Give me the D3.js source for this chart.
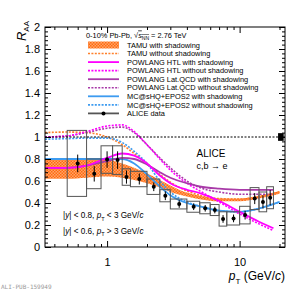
<!DOCTYPE html>
<html>
<head>
<meta charset="utf-8">
<script src="https://d3js.org/d3.v7.min.js"></script>
<style>
body { margin: 0; background: #fff; }
svg { display: block; font-family: 'Liberation Sans', Arial, Helvetica, sans-serif; }
</style>
</head>
<body>
<script>
// model curves at these pT nodes (GeV/c)
var ptModel   = [0.34, 0.5, 0.7, 1.0, 1.3, 1.6, 2.0, 2.5, 3.0, 4.0, 5.0, 7.0, 10, 14, 20];
var ptPowlang = [0.34, 0.5, 0.7, 1.0, 1.3, 1.6, 2.0, 2.5, 3.0, 4.0, 5.0, 7.0, 10, 14, 18];

var tamuShLo   = [0.62, 0.62, 0.63, 0.64, 0.63, 0.61, 0.58, 0.54, 0.50, 0.46, 0.435, 0.415, 0.415, 0.44, 0.485];
var tamuShHi   = [0.79, 0.79, 0.79, 0.79, 0.76, 0.72, 0.67, 0.61, 0.56, 0.495, 0.465, 0.44, 0.44, 0.465, 0.51];
var tamuNoSh   = [1.04, 1.045, 1.04, 1.0, 0.93, 0.85, 0.76, 0.66, 0.59, 0.51, 0.47, 0.44, 0.435, 0.46, 0.50];
var htlSh      = [0.72, 0.72, 0.74, 0.81, 0.85, 0.83, 0.76, 0.65, 0.58, 0.52, 0.49, 0.42, 0.32, 0.23, 0.17];
var htlNoSh    = [1.00, 1.01, 1.05, 1.10, 1.11, 1.05, 0.93, 0.80, 0.70, 0.58, 0.51, 0.41, 0.30, 0.21, 0.15];
var lqcdSh     = [0.72, 0.72, 0.74, 0.78, 0.81, 0.80, 0.75, 0.68, 0.63, 0.58, 0.55, 0.53, 0.52, 0.52, 0.52];
var lqcdNoSh   = [1.00, 1.01, 1.04, 1.08, 1.09, 1.04, 0.93, 0.81, 0.72, 0.60, 0.54, 0.50, 0.48, 0.48, 0.48];
var shqSh      = [0.80, 0.80, 0.80, 0.80, 0.80, 0.76, 0.66, 0.55, 0.47, 0.40, 0.37, 0.33, 0.32, 0.35, 0.41];
var shqNoSh    = [0.98, 0.985, 0.99, 0.99, 0.95, 0.87, 0.76, 0.60, 0.50, 0.41, 0.37, 0.33, 0.32, 0.35, 0.41];

// ALICE heavy-flavour decay electrons
var alicePt    = [0.6, 0.8, 1.0, 1.2, 1.4, 1.75, 2.25, 2.75, 3.5, 4.5, 5.5, 6.5, 7.5, 9, 11, 13, 15, 17];
var aliceBinLo = [0.5, 0.7, 0.9, 1.1, 1.3, 1.5, 2.0, 2.5, 3.0, 4.0, 5.0, 6.0, 7.0, 8.0, 10, 12, 14, 16];
var aliceBinHi = [0.7, 0.9, 1.1, 1.3, 1.5, 2.0, 2.5, 3.0, 4.0, 5.0, 6.0, 7.0, 8.0, 10, 12, 14, 16, 18];
var aliceRaa   = [0.76, 0.665, 0.795, 0.79, 0.636, 0.618, 0.548, 0.466, 0.391, 0.366, 0.352, 0.336, 0.255, 0.26, 0.29, 0.44, 0.41, 0.448];
var aliceStat  = [0.08, 0.07, 0.075, 0.08, 0.06, 0.05, 0.04, 0.04, 0.035, 0.03, 0.03, 0.03, 0.035, 0.035, 0.04, 0.05, 0.06, 0.07];
var aliceSys   = [0.30, 0.135, 0.125, 0.13, 0.075, 0.07, 0.07, 0.055, 0.045, 0.05, 0.05, 0.05, 0.065, 0.06, 0.08, 0.10, 0.09, 0.10];
var normUnc    = 0.035;

// ticks
var yMajor = [0, 0.2, 0.4, 0.6, 0.8, 1, 1.2, 1.4, 1.6, 1.8, 2];
var xMajor = [1, 10];
var xMinor = [0.4, 0.5, 0.6, 0.7, 0.8, 0.9, 2, 3, 4, 5, 6, 7, 8, 9, 20];

var legendLabels = ['TAMU with shadowing', 'TAMU without shadowing', 'POWLANG HTL with shadowing',
    'POWLANG HTL without shadowing', 'POWLANG Lat.QCD with shadowing', 'POWLANG Lat.QCD without shadowing',
    'MC@sHQ+EPOS2 with shadowing', 'MC@sHQ+EPOS2 without shadowing', 'ALICE data'];

var orange = '#ff7f2a', magenta = '#ff00ff', purple = '#a83aa8', blue = '#3d9bf0';
var dotted = '2,1.4';

var x0 = 45, x1 = 285, y0 = 27, y1 = 247;

var xscale = d3.scaleLog().domain([0.34, 22]).range([x0, x1]);
var yscale = d3.scaleLinear().domain([0, 2]).range([y1, y0]);

var svg = d3.select('body').append('svg')
    .attr('width', 300)
    .attr('height', 291);

//pattern for the TAMU band
var defs = svg.append('defs');
var pat = defs.append('pattern')
    .attr('id', 'tamuFill')
    .attr('patternUnits', 'userSpaceOnUse')
    .attr('width', 3).attr('height', 3);
pat.append('rect').attr('width', 3).attr('height', 3).attr('fill', '#ffa468');
pat.append('rect').attr('width', 1.5).attr('height', 1.5).attr('fill', '#ff6a10');
pat.append('rect').attr('x', 1.5).attr('y', 1.5).attr('width', 1.5).attr('height', 1.5).attr('fill', '#ff6a10');

defs.append('clipPath').attr('id', 'plotClip')
    .append('rect')
    .attr('x', x0).attr('y', y0)
    .attr('width', x1 - x0).attr('height', y1 - y0);

var plot = svg.append('g').attr('clip-path', 'url(#plotClip)');

//curves
var line = d3.line()
    .x(function (d) { return xscale(d[0]); })
    .y(function (d) { return yscale(d[1]); })
    .curve(d3.curveMonotoneX);

var band = d3.area()
    .x(function (d) { return xscale(d[0]); })
    .y0(function (d) { return yscale(d[1]); })
    .y1(function (d) { return yscale(d[2]); })
    .curve(d3.curveMonotoneX);

function pairs(xs, ys) { return xs.map(function (v, i) { return [v, ys[i]]; }); }

plot.append('path')
    .datum(ptModel.map(function (v, i) { return [v, tamuShLo[i], tamuShHi[i]]; }))
    .attr('d', band)
    .attr('fill', 'url(#tamuFill)');

var curves = [
    { x: ptModel, y: tamuNoSh, color: orange, dash: dotted, w: 1.6 },
    { x: ptModel, y: shqNoSh, color: blue, dash: dotted, w: 1.6 },
    { x: ptModel, y: shqSh, color: blue, dash: null, w: 1.8 },
    { x: ptPowlang, y: lqcdNoSh, color: purple, dash: dotted, w: 1.6 },
    { x: ptPowlang, y: htlNoSh, color: magenta, dash: dotted, w: 1.6 },
    { x: ptPowlang, y: lqcdSh, color: purple, dash: null, w: 1.8 },
    { x: ptPowlang, y: htlSh, color: magenta, dash: null, w: 1.8 }
];

curves.forEach(function (c) {
    plot.append('path')
        .datum(pairs(c.x, c.y))
        .attr('d', line)
        .attr('fill', 'none')
        .attr('stroke', c.color)
        .attr('stroke-width', c.w)
        .attr('stroke-dasharray', c.dash);
});

//unity line
svg.append('line')
    .attr('x1', x0).attr('x2', x1)
    .attr('y1', yscale(1)).attr('y2', yscale(1))
    .attr('stroke', '#000')
    .attr('stroke-width', 1)
    .attr('stroke-dasharray', '2,1.5');

//normalisation uncertainty box
svg.append('rect')
    .attr('x', xscale(19.5))
    .attr('y', yscale(1 + normUnc))
    .attr('width', xscale(21.5) - xscale(19.5))
    .attr('height', yscale(1 - normUnc) - yscale(1 + normUnc))
    .attr('fill', '#000');

//systematic boxes
plot.selectAll('rect.sys')
    .data(alicePt)
    .enter().append('rect')
        .attr('class', 'sys')
        .attr('x', function (d, i) { return xscale(aliceBinLo[i]); })
        .attr('y', function (d, i) { return yscale(aliceRaa[i] + aliceSys[i]); })
        .attr('width', function (d, i) { return xscale(aliceBinHi[i]) - xscale(aliceBinLo[i]); })
        .attr('height', function (d, i) { return yscale(aliceRaa[i] - aliceSys[i]) - yscale(aliceRaa[i] + aliceSys[i]); })
        .attr('fill', 'none')
        .attr('stroke', '#555')
        .attr('stroke-width', 1);

//stat errors
plot.selectAll('line.stat')
    .data(alicePt)
    .enter().append('line')
        .attr('class', 'stat')
        .attr('x1', function (d) { return xscale(d); })
        .attr('x2', function (d) { return xscale(d); })
        .attr('y1', function (d, i) { return yscale(aliceRaa[i] + aliceStat[i]); })
        .attr('y2', function (d, i) { return yscale(aliceRaa[i] - aliceStat[i]); })
        .attr('stroke', '#000')
        .attr('stroke-width', 1);

plot.selectAll('circle.pt')
    .data(alicePt)
    .enter().append('circle')
        .attr('class', 'pt')
        .attr('cx', function (d) { return xscale(d); })
        .attr('cy', function (d, i) { return yscale(aliceRaa[i]); })
        .attr('r', 2)
        .attr('fill', '#000');

//axes, ticks pointing inwards on all four sides
function yMinorTicks() {
    var t = [];
    for (var i = 0; i <= 50; i++) t.push(i * 0.04);
    return t;
}

function styleAxis(g) {
    g.select('.domain').remove();
    g.attr('font-family', null).attr('font-size', 11);
    g.selectAll('text').attr('fill', '#000');
}

svg.append('g').attr('transform', 'translate(0,' + y1 + ')')
    .call(d3.axisBottom(xscale).tickValues(xMinor).tickSize(-3).tickFormat('')).call(styleAxis);
svg.append('g').attr('transform', 'translate(0,' + y1 + ')')
    .call(d3.axisBottom(xscale).tickValues(xMajor).tickSize(-6).tickPadding(11).tickFormat(d3.format('d'))).call(styleAxis);
svg.append('g').attr('transform', 'translate(0,' + y0 + ')')
    .call(d3.axisTop(xscale).tickValues(xMinor).tickSize(-3).tickFormat('')).call(styleAxis);
svg.append('g').attr('transform', 'translate(0,' + y0 + ')')
    .call(d3.axisTop(xscale).tickValues(xMajor).tickSize(-6).tickFormat('')).call(styleAxis);

svg.append('g').attr('transform', 'translate(' + x0 + ',0)')
    .call(d3.axisLeft(yscale).tickValues(yMinorTicks()).tickSize(-3).tickFormat('')).call(styleAxis);
svg.append('g').attr('transform', 'translate(' + x0 + ',0)')
    .call(d3.axisLeft(yscale).tickValues(yMajor).tickSize(-6).tickPadding(5).tickFormat(d3.format('~g'))).call(styleAxis);
svg.append('g').attr('transform', 'translate(' + x1 + ',0)')
    .call(d3.axisRight(yscale).tickValues(yMinorTicks()).tickSize(-3).tickFormat('')).call(styleAxis);
svg.append('g').attr('transform', 'translate(' + x1 + ',0)')
    .call(d3.axisRight(yscale).tickValues(yMajor).tickSize(-6).tickFormat('')).call(styleAxis);

//frame
svg.append('rect')
    .attr('x', x0).attr('y', y0)
    .attr('width', x1 - x0).attr('height', y1 - y0)
    .attr('fill', 'none')
    .attr('stroke', '#000')
    .attr('stroke-width', 1);

//axis titles
var ylab = svg.append('text')
    .attr('transform', 'translate(26,21) rotate(-90)')
    .attr('text-anchor', 'end')
    .attr('font-size', 13);
ylab.append('tspan').attr('font-style', 'italic').text('R');
ylab.append('tspan').attr('font-size', 8).attr('dy', 3).text('AA');

var xlab = svg.append('text')
    .attr('x', x1).attr('y', 280)
    .attr('text-anchor', 'end')
    .attr('font-size', 12);
xlab.append('tspan').attr('font-style', 'italic').text('p');
xlab.append('tspan').attr('font-size', 8).attr('dy', 4).text('T');
xlab.append('tspan').attr('dy', -4).text(' (GeV/');
xlab.append('tspan').attr('font-style', 'italic').text('c');
xlab.append('tspan').text(')');

//legend
var lg = svg.append('g').attr('font-size', 7.4);
var head = lg.append('text').attr('x', 86).attr('y', 37.5);
head.append('tspan').text('0-10% Pb-Pb, \u221A');
head.append('tspan').attr('font-style', 'italic').style('text-decoration', 'overline').text('s');
head.append('tspan').attr('font-size', 5).attr('dy', 2).style('text-decoration', 'overline').text('NN');
head.append('tspan').attr('dy', -2).text(' = 2.76 TeV');

var legendStyle = [
    { color: orange, dash: null, band: true },
    { color: orange, dash: dotted },
    { color: magenta, dash: null },
    { color: magenta, dash: dotted },
    { color: purple, dash: null },
    { color: purple, dash: dotted },
    { color: blue, dash: null },
    { color: blue, dash: dotted },
    { color: '#555', dash: null, marker: true }
];

legendLabels.forEach(function (lab, i) {
    var cy = 45 + i * 8.55, s = legendStyle[i];
    if (s.band) {
        lg.append('rect').attr('x', 88).attr('y', cy - 3.5).attr('width', 31).attr('height', 7)
            .attr('fill', 'url(#tamuFill)');
    } else {
        lg.append('line').attr('x1', 88).attr('x2', 119).attr('y1', cy).attr('y2', cy)
            .attr('stroke', s.color)
            .attr('stroke-width', s.dash ? 1.6 : 1.8)
            .attr('stroke-dasharray', s.dash);
    }
    if (s.marker) {
        lg.append('circle').attr('cx', 103.5).attr('cy', cy).attr('r', 2).attr('fill', '#000');
    }
    lg.append('text').attr('x', 127).attr('y', cy + 2.7).text(lab);
});

//annotations
svg.append('text').attr('x', 211).attr('y', 157).attr('text-anchor', 'middle')
    .attr('font-size', 10).text('ALICE');
svg.append('text').attr('x', 212).attr('y', 169).attr('text-anchor', 'middle')
    .attr('font-size', 9).text('c,b \u2192 e');

function rapidityNote(y, ycut, sign) {
    var t = svg.append('text').attr('x', 63).attr('y', y).attr('font-size', 8.2);
    t.append('tspan').text('|');
    t.append('tspan').attr('font-style', 'italic').text('y');
    t.append('tspan').text('| < ' + ycut + ', ');
    t.append('tspan').attr('font-style', 'italic').text('p');
    t.append('tspan').attr('font-size', 5.5).attr('dy', 2.5).text('T');
    t.append('tspan').attr('dy', -2.5).text(' ' + sign + ' 3 GeV/');
    t.append('tspan').attr('font-style', 'italic').text('c');
}
rapidityNote(218, '0.8', '<');
rapidityNote(233.5, '0.6', '>');

svg.append('text').attr('x', 1).attr('y', 289)
    .attr('font-family', 'DejaVu Sans Mono, monospace')
    .attr('font-size', 6)
    .attr('fill', '#999')
    .text('ALI-PUB-159949');
</script>
</body>
</html>
